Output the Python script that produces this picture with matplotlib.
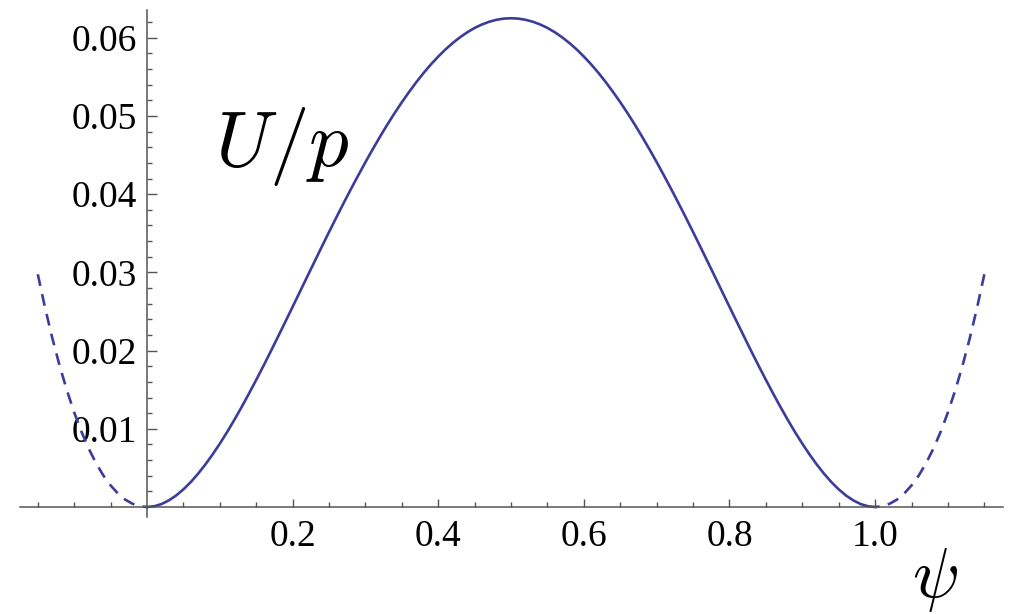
import numpy as np
import matplotlib
matplotlib.use("Agg")
import matplotlib.pyplot as plt
from matplotlib.ticker import FixedLocator

# potential U/p sampled along psi (left and right branches drawn dashed)
psi_left = [-0.15, -0.14, -0.13, -0.12, -0.11, -0.10, -0.09, -0.08,
            -0.07, -0.06, -0.05, -0.04, -0.03, -0.02, -0.01, 0.0]
u_left = [0.02976, 0.02547, 0.02158, 0.01806, 0.01491, 0.0121, 0.00962,
          0.00746, 0.00561, 0.00404, 0.00276, 0.00173, 0.00095, 0.00042,
          0.0001, 0.0]

psi_mid = [round(0.01 * k, 2) for k in range(101)]
u_mid = [0.0, 0.0001, 0.00038, 0.00085, 0.00147, 0.00226, 0.00318, 0.00424,
         0.00542, 0.00671, 0.0081, 0.00958, 0.01115, 0.01279, 0.0145, 0.01626,
         0.01806, 0.01991, 0.02179, 0.02369, 0.0256, 0.02752, 0.02945, 0.03136,
         0.03327, 0.03516, 0.03702, 0.03885, 0.04064, 0.04239, 0.0441, 0.04575,
         0.04735, 0.04889, 0.05036, 0.05176, 0.05308, 0.05434, 0.05551, 0.0566,
         0.0576, 0.05852, 0.05934, 0.06007, 0.06071, 0.06126, 0.0617, 0.06205,
         0.0623, 0.06245, 0.0625,
         0.06245, 0.0623, 0.06205, 0.0617, 0.06126, 0.06071, 0.06007, 0.05934,
         0.05852, 0.0576, 0.0566, 0.05551, 0.05434, 0.05308, 0.05176, 0.05036,
         0.04889, 0.04735, 0.04575, 0.0441, 0.04239, 0.04064, 0.03885, 0.03702,
         0.03516, 0.03327, 0.03136, 0.02945, 0.02752, 0.0256, 0.02369, 0.02179,
         0.01991, 0.01806, 0.01626, 0.0145, 0.01279, 0.01115, 0.00958, 0.0081,
         0.00671, 0.00542, 0.00424, 0.00318, 0.00226, 0.00147, 0.00085, 0.00038,
         0.0001, 0.0]

psi_right = [1.0, 1.01, 1.02, 1.03, 1.04, 1.05, 1.06, 1.07, 1.08, 1.09,
             1.10, 1.11, 1.12, 1.13, 1.14, 1.15]
u_right = [0.0, 0.0001, 0.00042, 0.00095, 0.00173, 0.00276, 0.00404, 0.00561,
           0.00746, 0.00962, 0.0121, 0.01491, 0.01806, 0.02158, 0.02547, 0.02976]

x_major = [0.2, 0.4, 0.6, 0.8, 1.0]
x_labels = ["0.2", "0.4", "0.6", "0.8", "1.0"]
y_major = [0.01, 0.02, 0.03, 0.04, 0.05, 0.06]
y_labels = ["0.01", "0.02", "0.03", "0.04", "0.05", "0.06"]

plt.rcParams["mathtext.fontset"] = "cm"
serif = ["Liberation Serif", "DejaVu Serif"]

fig = plt.figure(figsize=(10.12, 6.14), dpi=100)
ax = fig.add_axes([0, 0, 1, 1])
ax.set_facecolor("none")

line_color = "#3c3c9a"
dash = (0, (4.5, 3.2))
ax.plot(psi_mid, u_mid, color=line_color, lw=1.9, solid_joinstyle="round")
ax.plot(psi_left, u_left, color=line_color, lw=1.9, ls=dash)
ax.plot(psi_right[::-1], u_right[::-1], color=line_color, lw=1.9, ls=dash)

ax.set_xlim(-0.2019, 1.188)
ax.set_ylim(-0.01368, 0.06483)

axis_color = "#555555"
for s in ("top", "right"):
    ax.spines[s].set_visible(False)
ax.spines["left"].set_position(("data", 0))
ax.spines["bottom"].set_position(("data", 0))
ax.spines["left"].set_bounds(-0.0013, 0.0636)
ax.spines["bottom"].set_bounds(-0.174, 1.176)
for s in ("left", "bottom"):
    ax.spines[s].set_color(axis_color)
    ax.spines[s].set_linewidth(1.1)

ax.xaxis.set_major_locator(FixedLocator(x_major))
ax.xaxis.set_minor_locator(FixedLocator(
    [v for v in np.arange(-0.15, 1.16, 0.05)
     if abs(v) > 1e-9 and min(abs(v - m) for m in x_major) > 1e-9]))
ax.yaxis.set_major_locator(FixedLocator(y_major))
ax.yaxis.set_minor_locator(FixedLocator(
    [v for v in np.arange(0.002, 0.0635, 0.002)
     if min(abs(v - m) for m in y_major) > 1e-9]))
ax.set_xticklabels(x_labels)
ax.set_yticklabels(y_labels)

ax.tick_params(axis="both", which="both", direction="in", width=1.0,
               color=axis_color)
ax.tick_params(axis="x", which="major", length=6.0, pad=9, labelsize=27)
ax.tick_params(axis="y", which="major", length=7.5, pad=7, labelsize=27)
ax.tick_params(axis="both", which="minor", length=3.8)
for lab in ax.get_xticklabels() + ax.get_yticklabels():
    lab.set_family(serif)
    lab.set_color("black")

ax.text(0.093, 0.0436, r"$U/p$", fontsize=57, ha="left", va="baseline")
ax.text(1.082, -0.0115, r"$\psi$", fontsize=50, ha="center", va="baseline")

fig.savefig("out.png", dpi=100)
